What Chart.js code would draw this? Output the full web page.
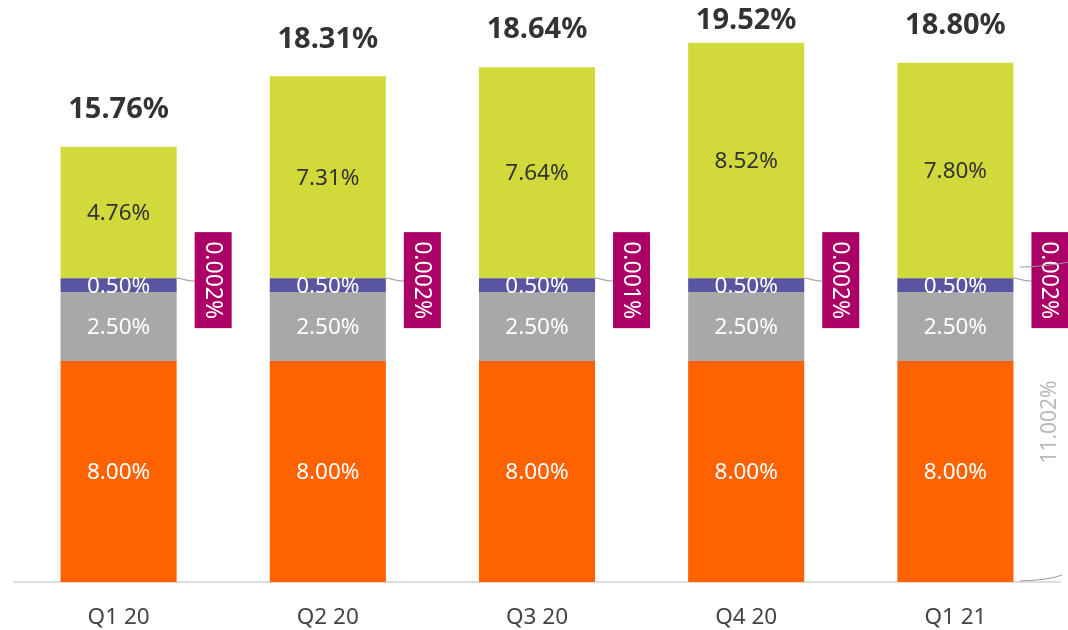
<!DOCTYPE html>
<html>
<head>
<meta charset="utf-8">
<script src="https://cdn.jsdelivr.net/npm/chart.js@4/dist/chart.umd.min.js"></script>
<style>
  html, body { margin: 0; padding: 0; background: #fff; }
  #wrap { width: 1068px; height: 630px; position: relative; }
</style>
</head>
<body>
<div id="wrap"><canvas id="capitalChart"></canvas></div>
<script>
const quarters = ['Q1 20', 'Q2 20', 'Q3 20', 'Q4 20', 'Q1 21'];
const pillar1Min = [8.00, 8.00, 8.00, 8.00, 8.00];
const conservationBuffer = [2.50, 2.50, 2.50, 2.50, 2.50];
const systemicBuffer = [0.50, 0.50, 0.50, 0.50, 0.50];
const countercyclicalBuffer = [0.002, 0.002, 0.001, 0.002, 0.002];
const surplus = [4.76, 7.31, 7.64, 8.52, 7.80];

const FONT = "'Noto Sans', 'Open Sans', sans-serif";
const pct = (v, d) => v.toFixed(d) + '%';

const totals = quarters.map((_, i) =>
  pillar1Min[i] + conservationBuffer[i] + systemicBuffer[i] + countercyclicalBuffer[i] + surplus[i]);
const lastIdx = quarters.length - 1;
const requirementLast = pillar1Min[lastIdx] + conservationBuffer[lastIdx] + systemicBuffer[lastIdx] + countercyclicalBuffer[lastIdx];

const labelPlugin = {
  id: 'segmentLabels',
  afterDatasetsDraw(chart) {
    const ctx = chart.ctx;
    const y = chart.scales.y;
    ctx.save();
    ctx.textAlign = 'center';
    ctx.textBaseline = 'middle';

    // value labels inside the segments (skip the tiny countercyclical one)
    const inside = [
      { ds: 0, color: '#ffffff' },
      { ds: 1, color: '#ffffff' },
      { ds: 2, color: '#ffffff' },
      { ds: 4, color: '#333333' }
    ];
    inside.forEach(({ ds, color }) => {
      const meta = chart.getDatasetMeta(ds);
      meta.data.forEach((bar, i) => {
        const v = chart.data.datasets[ds].data[i];
        ctx.font = `22.5px ${FONT}`;
        ctx.fillStyle = color;
        ctx.fillText(pct(v, 2), bar.x, (bar.y + bar.base) / 2 + 1);
      });
    });

    // totals above each bar, kept inside the canvas
    const top = chart.getDatasetMeta(4);
    top.data.forEach((bar, i) => {
      ctx.font = `bold 29px ${FONT}`;
      ctx.fillStyle = '#333333';
      ctx.fillText(pct(totals[i], 2), bar.x, Math.max(bar.y - 37, 21));
    });

    // countercyclical buffer callouts
    const cc = chart.getDatasetMeta(3);
    cc.data.forEach((bar, i) => {
      const right = bar.x + bar.width / 2;
      const yy = y.getPixelForValue(pillar1Min[i] + conservationBuffer[i] + systemicBuffer[i] + countercyclicalBuffer[i]);
      const bx = right + 18, bw = 37, bh = 96;
      const by = yy + 2 - bh / 2;

      ctx.strokeStyle = '#aaaaaa';
      ctx.lineWidth = 1.2;
      ctx.beginPath();
      ctx.moveTo(right, yy);
      ctx.bezierCurveTo(right + 6, yy, right + 8, yy + 3, bx, yy + 3);
      ctx.stroke();

      ctx.fillStyle = '#ab0066';
      ctx.fillRect(bx, by, bw, bh);

      ctx.save();
      ctx.translate(bx + bw / 2, by + bh / 2);
      ctx.rotate(Math.PI / 2);
      ctx.font = `23px ${FONT}`;
      ctx.fillStyle = '#ffffff';
      ctx.fillText(pct(countercyclicalBuffer[i], 3), 0, 1);
      ctx.restore();
    });

    // brace for the total requirement on the right
    const yTop = y.getPixelForValue(requirementLast);
    const yBot = y.getPixelForValue(0);
    ctx.strokeStyle = '#999999';
    ctx.lineWidth = 1;
    ctx.beginPath();
    ctx.moveTo(1020, yTop - 11);
    ctx.quadraticCurveTo(1050, yTop - 12, 1068, yTop - 16);
    ctx.stroke();
    ctx.beginPath();
    ctx.moveTo(1020, yBot - 1);
    ctx.quadraticCurveTo(1050, yBot - 2, 1062, yBot - 7);
    ctx.stroke();

    ctx.save();
    ctx.translate(1050, 422);
    ctx.rotate(-Math.PI / 2);
    ctx.font = `21px ${FONT}`;
    ctx.fillStyle = '#b8b8b8';
    ctx.fillText(pct(requirementLast, 3), 0, 0);
    ctx.restore();

    ctx.restore();
  }
};

new Chart(document.getElementById('capitalChart'), {
  type: 'bar',
  data: {
    labels: quarters,
    datasets: [
      { label: 'Pillar 1', data: pillar1Min, backgroundColor: '#ff6200' },
      { label: 'Capital conservation buffer', data: conservationBuffer, backgroundColor: '#a8a8a8' },
      { label: 'Systemic risk buffer', data: systemicBuffer, backgroundColor: '#5a55a0' },
      { label: 'Countercyclical buffer', data: countercyclicalBuffer, backgroundColor: '#ab0066' },
      { label: 'Surplus', data: surplus, backgroundColor: '#d1d93b' }
    ]
  },
  options: {
    responsive: true,
    maintainAspectRatio: false,
    animation: false,
    layout: { padding: { left: 14, right: 8, top: 2, bottom: 0 } },
    datasets: { bar: { categoryPercentage: 1, barPercentage: 0.555, borderWidth: 0 } },
    plugins: { legend: { display: false }, tooltip: { enabled: false } },
    scales: {
      x: {
        stacked: true,
        grid: { display: false },
        border: { display: true, color: '#dddddd', width: 2 },
        ticks: { color: '#444444', font: { family: FONT, size: 22.5 }, padding: 14 },
        afterFit(scale) { scale.height = 48; }
      },
      y: {
        stacked: true,
        display: false,
        min: 0,
        max: 21
      }
    }
  },
  plugins: [labelPlugin]
});
</script>
</body>
</html>
